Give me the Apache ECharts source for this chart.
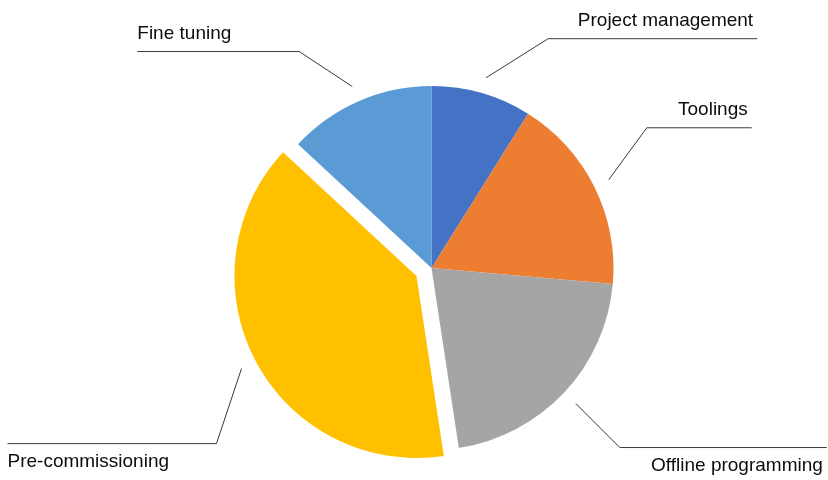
<!DOCTYPE html>
<html>
<head>
<meta charset="utf-8">
<script src="https://cdn.jsdelivr.net/npm/echarts@6/dist/echarts.min.js"></script>
<style>
html,body{margin:0;padding:0;background:#ffffff;}
#chart{width:828px;height:480px;}
</style>
</head>
<body>
<div id="chart"></div>
<script>
// ---- data ----
const categories = ['Project management', 'Toolings', 'Offline programming', 'Pre-commissioning', 'Fine tuning'];
const values = [8.9, 17.5, 21.2, 39.3, 13.1];
const explodedCategory = 'Pre-commissioning';

// ---- style ----
const colors = ['#4472C4', '#ED7D31', '#A5A5A5', '#FFC000', '#5B9BD5'];
// leader line legs per slice: [horizontal, vertical] size of the slanted leg, then the horizontal run
const leaderLegX = [62, 38, 44, 25, 53];
const leaderLegY = [39, 52, 44, 75, 35];
const leaderRun = [209, 105, 207, 209, 162];
const LEADER_GAP = 16;
const TEXT_OFFSET = 18;
const CX = 431.5, CY = 268, R = 182, EXPLODE = 17;
const HIDDEN = 'rgba(0,0,0,0)';

const chart = echarts.init(document.getElementById('chart'), null, { renderer: 'canvas' });

const explodedIndex = categories.indexOf(explodedCategory);
const total = values.reduce(function (s, v) { return s + v; }, 0);
let before = 0;
for (let j = 0; j < explodedIndex; j++) { before += values[j]; }
const midAngle = (before + values[explodedIndex] / 2) / total * 2 * Math.PI;
const explodedCenter = [CX + Math.sin(midAngle) * EXPLODE, CY - Math.cos(midAngle) * EXPLODE];

function leaderLayout(p) {
  const pts = p.labelLinePoints;
  if (!pts) { return {}; }
  const i = p.dataIndex;
  const a = pts[0], b = pts[1];
  const vx = b[0] - a[0], vy = b[1] - a[1];
  const L = Math.sqrt(vx * vx + vy * vy) || 1;
  const sx = vx >= 0 ? 1 : -1;
  const sy = vy >= 0 ? 1 : -1;
  const s = [a[0] + vx / L * LEADER_GAP, a[1] + vy / L * LEADER_GAP];
  const k = [s[0] + sx * leaderLegX[i], s[1] + sy * leaderLegY[i]];
  const e = [k[0] + sx * leaderRun[i], k[1]];
  return {
    labelLinePoints: [s, k, e],
    x: e[0] - (sx > 0 ? 4 : 0),
    y: k[1] + sy * TEXT_OFFSET,
    align: sx > 0 ? 'right' : 'left',
    verticalAlign: 'middle',
    hideOverlap: false
  };
}

function makeData(showExploded) {
  return categories.map(function (name, i) {
    const visible = (i === explodedIndex) === showExploded;
    return {
      name: name,
      value: values[i],
      itemStyle: { color: visible ? colors[i] : HIDDEN },
      label: { show: visible },
      labelLine: { show: visible }
    };
  });
}

const common = {
  type: 'pie',
  radius: [0, R],
  startAngle: 90,
  clockwise: true,
  avoidLabelOverlap: false,
  itemStyle: { borderWidth: 0 },
  label: {
    show: true,
    position: 'outside',
    formatter: '{b}',
    color: '#0d0d0d',
    fontFamily: 'Liberation Sans, Arial, sans-serif',
    fontSize: 19
  },
  labelLine: {
    show: true,
    length: 15,
    length2: 15,
    lineStyle: { color: '#3a3a3a', width: 1 }
  },
  emphasis: { disabled: true },
  labelLayout: leaderLayout
};

chart.setOption({
  animation: false,
  backgroundColor: '#ffffff',
  series: [
    Object.assign({}, common, { center: [CX, CY], data: makeData(false) }),
    Object.assign({}, common, { center: explodedCenter, data: makeData(true), silent: true })
  ]
});
</script>
</body>
</html>
